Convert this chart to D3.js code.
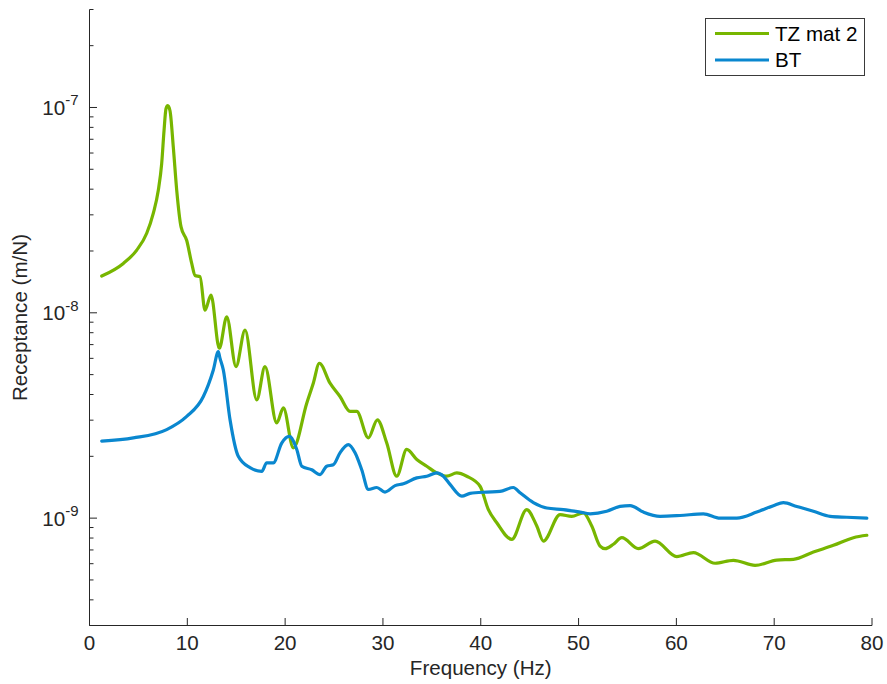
<!DOCTYPE html>
<html>
<head>
<meta charset="utf-8">
<script src="https://cdn.jsdelivr.net/npm/d3@7"></script>
<style>
  html, body { margin: 0; padding: 0; background: #fff; }
  svg { display: block; font-family: "Liberation Sans", Arial, Helvetica, sans-serif; }
</style>
</head>
<body>
<svg id="chart" width="887" height="684"></svg>
<script>
// Receptance spectra (m/N) against frequency (Hz)
const seriesNames = ["TZ mat 2", "BT"];
const seriesColors = ["#77b600", "#0a87cf"];

const tzFreq = [1.25,3.46,4.83,5.85,6.52,7.03,7.38,7.62,7.82,8.0,8.23,8.57,8.92,9.36,9.94,10.45,10.79,11.30,11.81,12.42,13.27,14.03,14.98,15.90,17.10,17.94,19.14,19.82,20.84,22.21,22.88,23.50,24.59,25.61,26.64,27.32,28.51,29.43,30.39,31.41,32.43,33.46,34.48,35.50,36.52,37.55,38.57,39.93,40.78,41.64,43.17,44.70,45.73,46.40,48.11,49.30,50.49,51.35,52.20,52.71,53.56,54.42,56.11,57.82,60.04,61.74,63.96,65.83,68.05,70.27,71.96,74.01,76.05,78.10,79.47];
const tzRec = [1.51e-8,1.74e-8,2.02e-8,2.44e-8,3.05e-8,3.94e-8,5.33e-8,7.71e-8,9.86e-8,1.02e-7,9.64e-8,6.39e-8,3.94e-8,2.62e-8,2.25e-8,1.74e-8,1.52e-8,1.50e-8,1.03e-8,1.22e-8,6.72e-9,9.56e-9,5.47e-9,8.24e-9,3.77e-9,5.47e-9,2.91e-9,3.44e-9,2.20e-9,3.63e-9,4.54e-9,5.68e-9,4.54e-9,3.91e-9,3.31e-9,3.31e-9,2.46e-9,3.01e-9,2.32e-9,1.60e-9,2.16e-9,1.93e-9,1.79e-9,1.66e-9,1.60e-9,1.66e-9,1.60e-9,1.43e-9,1.10e-9,9.50e-10,7.88e-10,1.10e-9,9.15e-10,7.73e-10,1.04e-9,1.02e-9,1.06e-9,9.15e-10,7.31e-10,7.10e-10,7.46e-10,8.03e-10,7.10e-10,7.73e-10,6.50e-10,6.79e-10,6.03e-10,6.23e-10,5.89e-10,6.25e-10,6.30e-10,6.84e-10,7.37e-10,8.03e-10,8.25e-10];

const btFreq = [1.25,4.48,7.89,9.94,11.64,12.66,13.17,13.34,13.68,14.37,15.21,16.41,17.61,18.12,18.79,19.65,20.43,21.19,21.70,22.72,23.57,24.25,24.93,25.61,26.46,27.15,27.83,28.51,29.37,30.21,31.24,32.09,33.46,34.48,35.50,36.18,36.86,38.06,38.91,40.61,41.97,43.33,44.02,45.38,46.75,48.45,50.15,51.18,52.88,54.24,55.27,56.63,58.33,60.38,62.76,64.47,66.18,68.22,69.92,70.94,72.31,74.01,75.72,77.42,79.47];
const btRec = [2.37e-9,2.46e-9,2.70e-9,3.13e-9,3.91e-9,5.27e-9,6.47e-9,6.01e-9,5.27e-9,3.01e-9,2.00e-9,1.76e-9,1.69e-9,1.86e-9,1.86e-9,2.32e-9,2.50e-9,2.16e-9,1.79e-9,1.72e-9,1.63e-9,1.79e-9,1.82e-9,2.08e-9,2.28e-9,2.08e-9,1.72e-9,1.38e-9,1.41e-9,1.34e-9,1.44e-9,1.47e-9,1.57e-9,1.60e-9,1.66e-9,1.60e-9,1.46e-9,1.28e-9,1.32e-9,1.34e-9,1.35e-9,1.41e-9,1.33e-9,1.19e-9,1.12e-9,1.10e-9,1.07e-9,1.05e-9,1.08e-9,1.14e-9,1.15e-9,1.07e-9,1.02e-9,1.03e-9,1.05e-9,1.00e-9,1.00e-9,1.07e-9,1.15e-9,1.19e-9,1.14e-9,1.08e-9,1.02e-9,1.01e-9,1.00e-9];

const xTicks = [0,10,20,30,40,50,60,70,80];
const yMajorExps = [-9,-8,-7];
const xDomain = [0, 80];
const yDomain = [3e-10, 3e-7];

const axisColor = "#262626";
const fontSize = 20.6;
const plot = { left: 89.5, right: 872, top: 9.5, bottom: 625.5 };

const svg = d3.select("#chart");

const x = d3.scaleLinear().domain(xDomain).range([plot.left, plot.right]);
const y = d3.scaleLog().domain(yDomain).range([plot.bottom, plot.top]);

// x axis with inward ticks
const gx = svg.append("g").attr("transform", `translate(0,${plot.bottom})`);
gx.append("line")
  .attr("x1", plot.left).attr("x2", plot.right)
  .attr("stroke", axisColor).attr("stroke-width", 1);
xTicks.forEach(t => {
  gx.append("line")
    .attr("x1", x(t)).attr("x2", x(t)).attr("y1", 0).attr("y2", -7.5)
    .attr("stroke", axisColor).attr("stroke-width", 1);
  gx.append("text")
    .attr("x", x(t)).attr("y", 24.3)
    .attr("text-anchor", "middle")
    .attr("font-size", fontSize).attr("fill", axisColor)
    .text(t);
});

// y axis (log) with inward major and minor ticks
const gy = svg.append("g");
gy.append("line")
  .attr("x1", plot.left).attr("x2", plot.left)
  .attr("y1", plot.top).attr("y2", plot.bottom)
  .attr("stroke", axisColor).attr("stroke-width", 1);
const majorVals = yMajorExps.map(e => Math.pow(10, e));
y.ticks().forEach(v => {
  const isMajor = majorVals.some(m => Math.abs(v / m - 1) < 1e-6);
  gy.append("line")
    .attr("x1", plot.left).attr("x2", plot.left + (isMajor ? 7.5 : 4))
    .attr("y1", y(v)).attr("y2", y(v))
    .attr("stroke", axisColor).attr("stroke-width", 1);
});
yMajorExps.forEach(e => {
  const t = gy.append("text")
    .attr("x", plot.left - 11).attr("y", y(Math.pow(10, e)) + 7.4)
    .attr("text-anchor", "end")
    .attr("fill", axisColor);
  t.append("tspan").attr("font-size", fontSize).text("10");
  t.append("tspan").attr("font-size", 15).attr("dy", -9.5).text(String(e));
});

// axis titles
svg.append("text")
  .attr("x", (plot.left + plot.right) / 2).attr("y", 675)
  .attr("text-anchor", "middle").attr("font-size", fontSize).attr("fill", axisColor)
  .text("Frequency (Hz)");
svg.append("text")
  .attr("transform", `translate(27,${(plot.top + plot.bottom) / 2}) rotate(-90)`)
  .attr("text-anchor", "middle").attr("font-size", fontSize).attr("fill", axisColor)
  .text("Receptance (m/N)");

// spectra
const line = d3.line()
  .x(d => x(d[0]))
  .y(d => y(d[1]))
  .curve(d3.curveMonotoneX);

const series = [d3.zip(tzFreq, tzRec), d3.zip(btFreq, btRec)];
series.forEach((data, i) => {
  svg.append("path")
    .datum(data)
    .attr("d", line)
    .attr("fill", "none")
    .attr("stroke", seriesColors[i])
    .attr("stroke-width", 3.2)
    .attr("stroke-linejoin", "round")
    .attr("stroke-linecap", "round");
});

// legend
const lg = svg.append("g");
lg.append("rect")
  .attr("x", 705.5).attr("y", 18.5).attr("width", 159).attr("height", 57)
  .attr("fill", "#fff").attr("stroke", "#3a3a3a").attr("stroke-width", 1);
seriesNames.forEach((name, i) => {
  const cy = 33.5 + i * 26.5;
  lg.append("line")
    .attr("x1", 715).attr("x2", 769).attr("y1", cy).attr("y2", cy)
    .attr("stroke", seriesColors[i]).attr("stroke-width", 3.2);
  lg.append("text")
    .attr("x", 775).attr("y", cy + 7.3)
    .attr("font-size", fontSize).attr("fill", "#000")
    .text(name);
});
</script>
</body>
</html>
